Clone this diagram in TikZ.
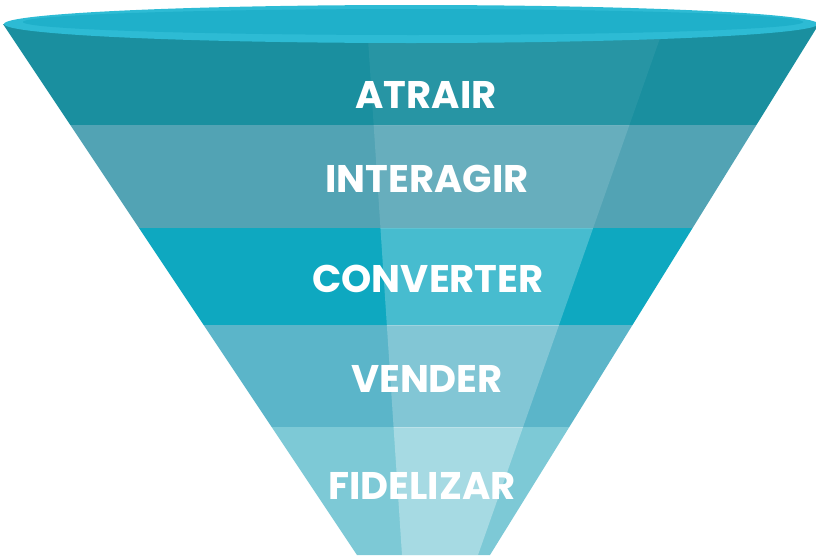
\documentclass[tikz,border=0pt]{standalone}
\usepackage{fontspec}
\setmainfont{Poppins}
\definecolor{bandA}{HTML}{1A8F9F}
\definecolor{bandB}{HTML}{52A3B4}
\definecolor{bandC}{HTML}{0EA8C0}
\definecolor{bandD}{HTML}{5BB5C9}
\definecolor{bandE}{HTML}{7DC9D6}
\definecolor{rimc}{HTML}{2DBBD4}
\definecolor{topc}{HTML}{1FB0CA}
\tikzset{
  lbl/.style={text=white, font=\fontsize{38.5}{42}\selectfont\bfseries, anchor=base, inner sep=0pt},
}
\begin{document}
\begin{tikzpicture}[x=1pt,y=-1pt]
\useasboundingbox (0,0) rectangle (816,557);
\begin{scope}
  \clip (3,24) -- (819,24) -- (490,555) -- (357,555) -- cycle;
  \fill[bandA] (0,0) rectangle (820,125);
  \fill[bandB] (0,125) rectangle (820,228);
  \fill[bandC] (0,228) rectangle (820,325);
  \fill[bandD] (0,325) rectangle (820,427);
  \fill[bandE] (0,427) rectangle (820,560);
  \begin{scope}\clip (0,0) rectangle (820,125);
    \fill[white,opacity=0.06] (367,24) -- (665,24) -- (478,555) -- (402,555) -- cycle;\end{scope}
  \begin{scope}\clip (0,125) rectangle (820,228);
    \fill[white,opacity=0.12] (367,24) -- (665,24) -- (478,555) -- (402,555) -- cycle;\end{scope}
  \begin{scope}\clip (0,228) rectangle (820,325);
    \fill[white,opacity=0.24] (367,24) -- (665,24) -- (478,555) -- (402,555) -- cycle;\end{scope}
  \begin{scope}\clip (0,325) rectangle (820,427);
    \fill[white,opacity=0.24] (367,24) -- (665,24) -- (478,555) -- (402,555) -- cycle;\end{scope}
  \begin{scope}\clip (0,427) rectangle (820,560);
    \fill[white,opacity=0.32] (367,24) -- (665,24) -- (478,555) -- (402,555) -- cycle;\end{scope}
\end{scope}
\fill[rimc] (411,24) ellipse [x radius=407, y radius=19];
\fill[topc] (413,22) ellipse [x radius=390, y radius=13];
\node[lbl] (atrair) at (426,108) {ATRAIR};
\node[lbl] (interagir) at (427,192) {INTERAGIR};
\node[lbl] (converter) at (428,292) {CONVERTER};
\node[lbl] (vender) at (427,392) {VENDER};
\node[lbl] (fidelizar) at (422,499) {FIDELIZAR};
\end{tikzpicture}
\end{document}
